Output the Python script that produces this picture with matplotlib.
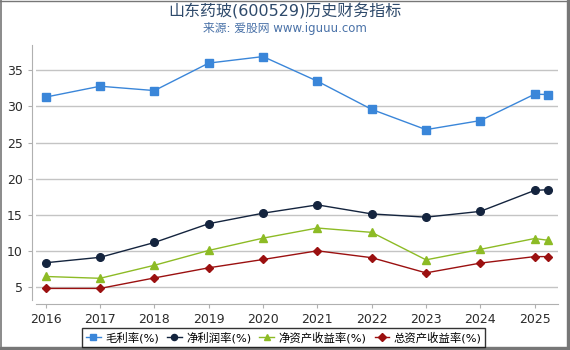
import matplotlib
matplotlib.use('Agg')
import matplotlib.pyplot as plt
from matplotlib.lines import Line2D
from matplotlib.patches import Rectangle

plt.rcParams['font.family'] = ['DejaVu Sans', 'Noto Sans CJK SC']

# data
years = [2016, 2017, 2018, 2019, 2020, 2021, 2022, 2023, 2024, 2025, 2025.25]
year_ticks = [2016, 2017, 2018, 2019, 2020, 2021, 2022, 2023, 2024, 2025]
gross_margin = [31.3, 32.8, 32.2, 36.0, 36.9, 33.5, 29.6, 26.8, 28.05, 31.7, 31.65]
net_margin = [8.4, 9.15, 11.2, 13.8, 15.25, 16.4, 15.15, 14.7, 15.5, 18.4, 18.5]
roe = [6.5, 6.25, 8.05, 10.1, 11.8, 13.2, 12.6, 8.8, 10.25, 11.75, 11.5]
roa = [4.85, 4.85, 6.3, 7.7, 8.85, 10.05, 9.1, 7.0, 8.35, 9.25, 9.25]

series = [
    ('毛利率(%)', gross_margin, '#3a86d9', 's'),
    ('净利润率(%)', net_margin, '#14243e', 'o'),
    ('净资产收益率(%)', roe, '#8dbb25', '^'),
    ('总资产收益率(%)', roa, '#9b1010', 'D'),
]

fig = plt.figure(figsize=(5.7, 3.5), dpi=100)
ax = fig.add_axes([36 / 570, 50 / 350, 522 / 570, 255 / 350])

for label, vals, color, marker in series:
    ms = 4.5 if marker == 'D' else 5.5
    ax.plot(years, vals, color=color, marker=marker, markersize=ms,
            linewidth=1, label=label)

ax.set_xlim(2015.82, 2025.43)
ax.set_ylim(3.25, 38.5)
ax.set_xticks(year_ticks)
ax.set_yticks([5, 10, 15, 20, 25, 30, 35])
ax.grid(axis='y', color='#c4c4c4', linewidth=1)
ax.set_axisbelow(True)

for s in ['top', 'right']:
    ax.spines[s].set_visible(False)
for s in ['left', 'bottom']:
    ax.spines[s].set_color('#b0b0b0')
    ax.spines[s].set_position(('outward', 3))
ax.tick_params(colors='#b0b0b0', labelcolor='#2b2b2b', labelsize=9, length=3)

fig.text(0.5, 0.968, '山东药玻(600529)历史财务指标', ha='center', va='center',
         fontsize=11.5, color='#2e4a6b')
fig.text(0.5, 0.918, '来源: 爱股网 www.iguuu.com', ha='center', va='center',
         fontsize=8.5, color='#4a72a8')

leg = fig.legend(loc='center', bbox_to_anchor=(0.498, 0.036), ncol=4,
                 fontsize=8.2, fancybox=False, edgecolor='black',
                 handlelength=1.3, handletextpad=0.4, columnspacing=0.7,
                 borderpad=0.3, markerscale=0.8)
leg.get_frame().set_linewidth(1)

# grey frame around the picture
fig.add_artist(Line2D([0.001, 0.001], [0, 1], color='#777777', linewidth=1.2,
                      transform=fig.transFigure))
fig.add_artist(Line2D([0, 1], [0.998, 0.998], color='#777777', linewidth=1.0,
                      transform=fig.transFigure))
fig.add_artist(Rectangle((567 / 570, 0), 3 / 570, 1, color='#777777',
                         transform=fig.transFigure))
fig.add_artist(Rectangle((0, 0), 1, 3 / 350, color='#777777',
                         transform=fig.transFigure))

fig.savefig('out.png', dpi=100)
